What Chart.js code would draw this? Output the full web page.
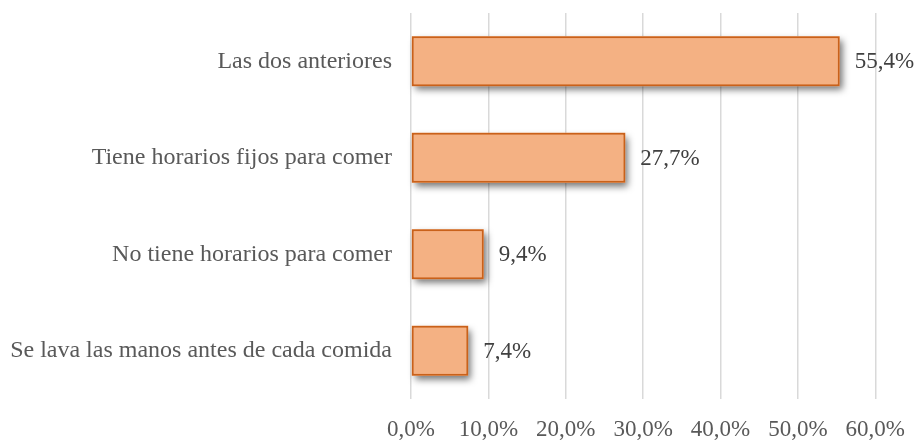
<!DOCTYPE html>
<html>
<head>
<meta charset="utf-8">
<script src="https://cdn.jsdelivr.net/npm/chart.js@4"></script>
<style>
  body { margin: 0; background: #fff; }
  #wrap { width: 922px; height: 440px; }
</style>
</head>
<body>
<div id="wrap"><canvas id="grafico" width="922" height="440"></canvas></div>
<script>
// categorias y valores (porcentaje)
const categorias = [
  "Las dos anteriores",
  "Tiene horarios fijos para comer",
  "No tiene horarios para comer",
  "Se lava las manos antes de cada comida"
];
const valores = [55.4, 27.7, 9.4, 7.4];
const ticksEje = [0, 10, 20, 30, 40, 50, 60];

const fmt = (v) => v.toFixed(1).replace(".", ",") + "%";

// sombra de las barras (se dibuja una vez, debajo de cada barra)
const sombra = {
  id: "sombra",
  beforeDatasetsDraw(chart) {
    const ctx = chart.ctx;
    const meta = chart.getDatasetMeta(0);
    ctx.save();
    ctx.shadowColor = "rgba(0,0,0,0.55)";
    ctx.shadowBlur = 7;
    ctx.shadowOffsetX = 3;
    ctx.shadowOffsetY = 4;
    ctx.fillStyle = "#F4B183";
    meta.data.forEach((bar) => {
      const h = bar.height;
      ctx.fillRect(bar.base, bar.y - h / 2, bar.x - bar.base, h);
    });
    ctx.restore();
  }
};

// etiquetas de valor al final de cada barra
const etiquetas = {
  id: "etiquetas",
  afterDatasetsDraw(chart) {
    const ctx = chart.ctx;
    const meta = chart.getDatasetMeta(0);
    ctx.save();
    ctx.font = "23px 'Liberation Serif'";
    ctx.fillStyle = "#404040";
    ctx.textAlign = "left";
    ctx.textBaseline = "middle";
    meta.data.forEach((bar, i) => {
      ctx.fillText(fmt(valores[i]), bar.x + 15, bar.y + 1);
    });
    ctx.restore();
  }
};

const ctx = document.getElementById("grafico").getContext("2d");
new Chart(ctx, {
  type: "bar",
  data: {
    labels: categorias,
    datasets: [
      {
        data: valores,
        backgroundColor: "#F4B183",
        borderColor: "#C9611A",
        borderWidth: 2,
        borderSkipped: false,
        categoryPercentage: 1,
        barPercentage: 0.52
      }
    ]
  },
  options: {
    indexAxis: "y",
    responsive: false,
    animation: false,
    layout: { padding: { top: 13, right: 43, bottom: 0, left: 0 } },
    plugins: {
      legend: { display: false },
      tooltip: { enabled: false }
    },
    scales: {
      x: {
        min: 0,
        max: 60,
        afterBuildTicks: (scale) => {
          scale.ticks = ticksEje.map((v) => ({ value: v }));
        },
        afterFit: (scale) => {
          scale.height = 41;
          scale.paddingTop = 0;
          scale.paddingBottom = 0;
        },
        grid: { color: "#d9d9d9", lineWidth: 1.5, drawTicks: false },
        border: { display: false },
        ticks: {
          padding: 17,
          color: "#595959",
          font: { family: "'Liberation Serif'", size: 23 },
          callback: (v) => fmt(v),
          maxRotation: 0
        }
      },
      y: {
        grid: { display: false, drawTicks: false },
        border: { display: false },
        afterFit: (scale) => {
          scale.width = 411;
          scale.paddingTop = 0;
          scale.paddingBottom = 0;
        },
        ticks: {
          padding: 19,
          color: "#595959",
          font: { family: "'Liberation Serif'", size: 24 }
        }
      }
    }
  },
  plugins: [sombra, etiquetas]
});
</script>
</body>
</html>
